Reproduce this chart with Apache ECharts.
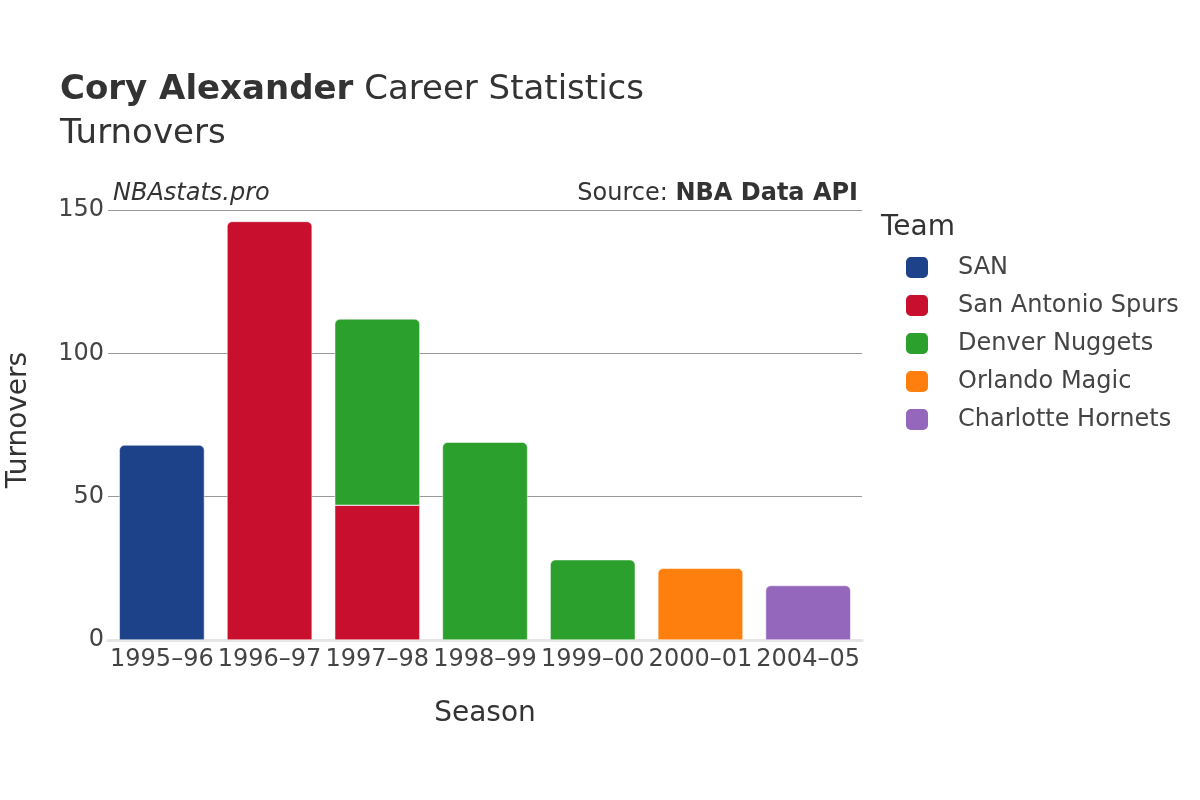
<!DOCTYPE html>
<html>
<head>
    <meta charset="utf-8">
    <title>Cory Alexander Turnovers</title>
    <script src="https://cdn.jsdelivr.net/npm/echarts@6/dist/echarts.min.js"></script>
    <style>
        body { margin: 0; background: #fff; }
    </style>
</head>
<body>
<div id="main" style="width: 1200px;height:800px;"></div>
<script type="text/javascript">
    // data
    var seasons = ['1995–96', '1996–97', '1997–98', '1998–99', '1999–00', '2000–01', '2004–05'];
    var teams = ['SAN', 'San Antonio Spurs', 'Denver Nuggets', 'Orlando Magic', 'Charlotte Hornets'];
    var teamColors = ['#1d428a', '#c8102e', '#2ca02c', '#ff7f0e', '#9467bd'];
    var sanVals      = [68, null, null, null, null, null, null];
    var spursVals    = [null, 146, 47, null, null, null, null];
    var nuggetsVals  = [null, null, 65, 69, 28, null, null];
    var magicVals    = [null, null, null, null, null, 25, null];
    var hornetsVals  = [null, null, null, null, null, null, 19];
    var yTicks = [0, 50, 100, 150];

    var allVals = [sanVals, spursVals, nuggetsVals, magicVals, hornetsVals];
    var font = 'DejaVu Sans';
    var textColor = '#444';

    var myChart = echarts.init(document.getElementById('main'));

    // which team sits on top of each stack (gets the rounded corners)
    var topIdx = seasons.map(function (s, i) {
        var t = -1;
        allVals.forEach(function (arr, k) { if (arr[i] != null) t = k; });
        return t;
    });

    var series = teams.map(function (name, k) {
        return {
            name: name,
            type: 'bar',
            stack: 'total',
            barCategoryGap: '21%',
            itemStyle: { color: teamColors[k], borderColor: '#fff', borderWidth: 0.5 },
            data: allVals[k].map(function (v, i) {
                if (v == null) return null;
                return {
                    value: v,
                    itemStyle: { borderRadius: topIdx[i] === k ? [5, 5, 0, 0] : 0 }
                };
            })
        };
    });

    var option = {
        animation: false,
        backgroundColor: '#fff',
        textStyle: { fontFamily: font },
        grid: { left: 108, right: 338, top: 210, bottom: 160 },
        legend: {
            orient: 'vertical',
            left: 899,
            top: 250,
            itemWidth: 24,
            itemHeight: 23,
            itemGap: 13,
            icon: 'roundRect',
            data: teams,
            textStyle: { color: textColor, fontSize: 24, fontFamily: font, padding: [0, 0, 0, 24] }
        },
        xAxis: {
            type: 'category',
            data: seasons,
            axisLine: { show: true, lineStyle: { color: '#e5e5e5', width: 3 } },
            axisTick: { show: false },
            axisLabel: { color: textColor, fontSize: 24, margin: 8, interval: 0 }
        },
        yAxis: {
            type: 'value',
            min: yTicks[0],
            max: yTicks[yTicks.length - 1],
            interval: 50,
            axisLine: { show: false },
            axisTick: { show: false },
            axisLabel: { color: textColor, fontSize: 24, margin: 4 },
            splitLine: { lineStyle: { color: '#999', width: 1 } }
        },
        graphic: [
            {
                type: 'text', left: 60, top: 73,
                style: {
                    text: '{b|Cory Alexander} Career Statistics',
                    rich: {
                        b: { fontWeight: 'bold', fontSize: 34, fontFamily: font, fill: '#333' }
                    },
                    fontSize: 34, fontFamily: font, fill: '#333'
                }
            },
            {
                type: 'text', left: 60, top: 117,
                style: { text: 'Turnovers', fontSize: 34, fontFamily: font, fill: '#333' }
            },
            {
                type: 'text', left: 113, top: 182,
                style: { text: 'NBAstats.pro', fontSize: 24, fontStyle: 'italic', fontFamily: font, fill: '#333' }
            },
            {
                type: 'text', right: 342, top: 182,
                style: {
                    text: 'Source: {b|NBA Data API}',
                    rich: { b: { fontWeight: 'bold', fontSize: 24, fontFamily: font, fill: '#333' } },
                    fontSize: 24, fontFamily: font, fill: '#333'
                }
            },
            {
                type: 'text', left: 881, top: 214,
                style: { text: 'Team', fontSize: 28, fontFamily: font, fill: '#333' }
            },
            {
                type: 'text', x: 485, y: 714,
                style: { text: 'Season', fontSize: 28, fontFamily: font, fill: '#333', textAlign: 'center', textVerticalAlign: 'middle' }
            },
            {
                type: 'text', x: 19, y: 420, rotation: Math.PI / 2,
                style: { text: 'Turnovers', fontSize: 28, fontFamily: font, fill: '#333', textAlign: 'center', textVerticalAlign: 'middle' }
            }
        ],
        series: series
    };
    myChart.setOption(option);
</script>
</body>
</html>
